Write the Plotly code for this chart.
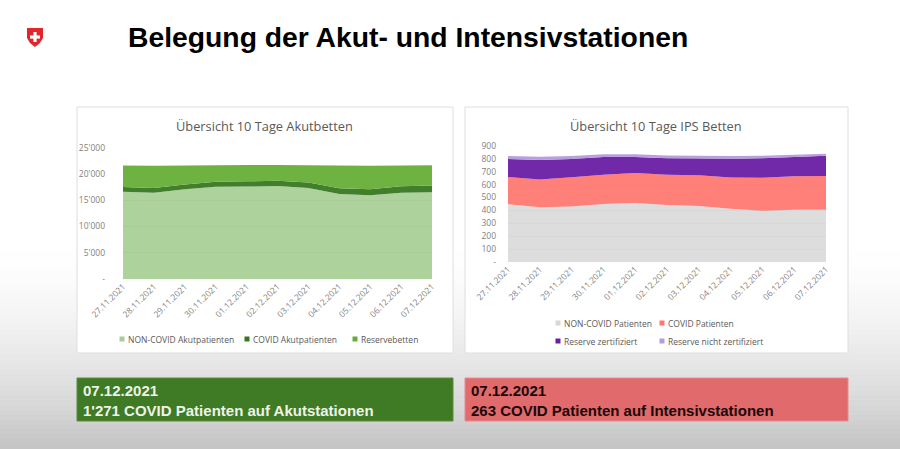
import plotly.graph_objects as go

W, H = 900, 449

dates = ['27.11.2021', '28.11.2021', '29.11.2021', '30.11.2021', '01.12.2021', '02.12.2021',
         '03.12.2021', '04.12.2021', '05.12.2021', '06.12.2021', '07.12.2021']

# Akutbetten
akut_non_covid = [16630, 16440, 17080, 17580, 17600, 17700, 17330, 16190, 15940, 16440, 16510]
akut_covid = [880, 900, 930, 960, 990, 1020, 1060, 1110, 1160, 1220, 1271]
akut_reserve = [4090, 4210, 3590, 3110, 3110, 2980, 3260, 4300, 4450, 3940, 3869]
akut_ticks = [0, 5000, 10000, 15000, 20000, 25000]
akut_ticktext = ['-', "5'000", "10'000", "15'000", "20'000", "25'000"]

# IPS Betten
ips_non_covid = [447, 424, 430, 449, 457, 442, 435, 413, 398, 404, 405]
ips_covid = [212, 215, 227, 228, 233, 235, 237, 242, 256, 262, 263]
ips_res_zert = [141, 153, 143, 138, 125, 128, 130, 145, 151, 149, 157]
ips_res_nicht = [22, 25, 22, 20, 20, 22, 22, 22, 20, 18, 15]
ips_ticks = [0, 100, 200, 300, 400, 500, 600, 700, 800, 900]
ips_ticktext = ['-', '100', '200', '300', '400', '500', '600', '700', '800', '900']


def px(x):
    return x / W


def py(y):
    return 1 - y / H


fig = go.Figure()

# left chart
akut_series = [
    ('NON-COVID Akutpatienten', akut_non_covid, 'rgba(160,202,138,0.85)', '#a8cc94'),
    ('COVID Akutpatienten', akut_covid, 'rgba(56,120,34,0.95)', '#3a7622'),
    ('Reservebetten', akut_reserve, 'rgba(102,174,56,0.95)', '#64ac38'),
]
for name, vals, col, _ in akut_series:
    fig.add_trace(go.Scatter(x=dates, y=vals, name=name, stackgroup='akut', mode='none',
                             fillcolor=col, xaxis='x', yaxis='y', showlegend=False))

# right chart
ips_series = [
    ('NON-COVID Patienten', ips_non_covid, 'rgba(215,215,215,0.85)', '#d7d7d7'),
    ('COVID Patienten', ips_covid, 'rgba(255,120,114,0.95)', '#ff7670'),
    ('Reserve zertifiziert', ips_res_zert, 'rgba(108,34,166,0.97)', '#6a1ea8'),
    ('Reserve nicht zertifiziert', ips_res_nicht, 'rgba(180,155,220,0.95)', '#b49bdc'),
]
for name, vals, col, _ in ips_series:
    fig.add_trace(go.Scatter(x=dates, y=vals, name=name, stackgroup='ips', mode='none',
                             fillcolor=col, xaxis='x2', yaxis='y2', showlegend=False))

tickfont = dict(family='Open Sans, Liberation Sans, sans-serif', size=8.5, color='#7f7f7f')
xcommon = dict(type='category', tickangle=-45, tickfont=tickfont, showgrid=False,
               zeroline=False, showline=False, ticks='', range=[0, 10], fixedrange=True,
               automargin=False)
ycommon = dict(tickfont=tickfont, showgrid=True, gridcolor='#d4d4d4', gridwidth=1,
               zeroline=False, showline=False, ticks='', fixedrange=True, automargin=False)

fig.update_layout(
    width=W, height=H,
    margin=dict(l=0, r=0, t=0, b=0, autoexpand=False),
    paper_bgcolor='white', plot_bgcolor='rgba(0,0,0,0)',
    showlegend=False,
    xaxis=dict(domain=[px(123), px(432)], anchor='y', **xcommon),
    yaxis=dict(domain=[py(279), py(147.7)], anchor='x', range=[0, 25000],
               tickvals=akut_ticks, ticktext=akut_ticktext, ticklabelstandoff=17, **ycommon),
    xaxis2=dict(domain=[px(508), px(826)], anchor='y2', **xcommon),
    yaxis2=dict(domain=[py(261.9), py(146)], anchor='x2', range=[0, 900],
                tickvals=ips_ticks, ticktext=ips_ticktext, ticklabelstandoff=11, **ycommon),
)

shapes = []
# slide background gradient
n = 40
y0 = 250
for i in range(n):
    t = (i + 1) / n
    g = int(255 - 58 * t ** 1.6)
    ya = y0 + (H - y0) * i / n
    yb = y0 + (H - y0) * (i + 1) / n + 0.5
    shapes.append(dict(type='rect', xref='paper', yref='paper', x0=0, x1=1,
                       y0=py(yb), y1=py(ya), fillcolor=f'rgb({g},{g},{g})',
                       line=dict(width=0), layer='below'))
# chart panels
for xa, xb in [(77, 453), (465, 848)]:
    shapes.append(dict(type='rect', xref='paper', yref='paper', x0=px(xa), x1=px(xb),
                       y0=py(353), y1=py(107), fillcolor='white',
                       line=dict(color='#dedede', width=1), layer='below'))
# summary boxes
shapes.append(dict(type='rect', xref='paper', yref='paper', x0=px(77), x1=px(453),
                   y0=py(421), y1=py(378), fillcolor='#3f7a24',
                   line=dict(color='#5a8a40', width=1), layer='below'))
shapes.append(dict(type='rect', xref='paper', yref='paper', x0=px(465), x1=px(848),
                   y0=py(421), y1=py(378), fillcolor='#e06a6c',
                   line=dict(color='#e88a8a', width=1), layer='below'))
# swiss shield
sx, sy = 35, 37
pts = [(sx - 8, sy - 9), (sx + 8, sy - 9), (sx + 8, sy + 1), (sx + 5, sy + 6), (sx, sy + 10),
       (sx - 5, sy + 6), (sx - 8, sy + 1)]
path = 'M ' + ' L '.join(f'{px(a):.5f},{py(b):.5f}' for a, b in pts) + ' Z'
shapes.append(dict(type='path', xref='paper', yref='paper', path=path,
                   fillcolor='#e3262b', line=dict(width=0)))
shapes.append(dict(type='rect', xref='paper', yref='paper', x0=px(sx - 1.6), x1=px(sx + 1.6),
                   y0=py(sy + 5), y1=py(sy - 5), fillcolor='white', line=dict(width=0)))
shapes.append(dict(type='rect', xref='paper', yref='paper', x0=px(sx - 5), x1=px(sx + 5),
                   y0=py(sy + 1.6), y1=py(sy - 1.6), fillcolor='white', line=dict(width=0)))

ann = []
legfont = dict(family='Open Sans, Liberation Sans, sans-serif', size=8.5, color='#595959')
# legend entries (small square + label), laid out like the original slide
leg_pos = [(akut_series[0], 122, 339), (akut_series[1], 247, 339), (akut_series[2], 355, 339),
           (ips_series[0], 558, 323), (ips_series[1], 662, 323),
           (ips_series[2], 558, 341), (ips_series[3], 662, 341)]
for (name, _, _, solid), lx, ly in leg_pos:
    shapes.append(dict(type='rect', xref='paper', yref='paper', x0=px(lx - 2.5), x1=px(lx + 2.5),
                       y0=py(ly + 2.5), y1=py(ly - 2.5), fillcolor=solid, line=dict(width=0)))
    ann.append(dict(text=name, x=px(lx + 3.5), y=py(ly), xref='paper', yref='paper',
                    xanchor='left', yanchor='middle', showarrow=False, font=legfont))
fig.update_layout(shapes=shapes)

ann.append(dict(text='<b>Belegung der Akut- und Intensivstationen</b>', x=px(126), y=py(37),
                xref='paper', yref='paper', xanchor='left', yanchor='middle', showarrow=False,
                font=dict(family='Liberation Sans, Arial, sans-serif', size=28.3, color='black')))
ann.append(dict(text='Übersicht 10 Tage Akutbetten', x=px(264), y=py(126), xref='paper',
                yref='paper', xanchor='center', yanchor='middle', showarrow=False,
                font=dict(family='Open Sans, sans-serif', size=12.8, color='#595959')))
ann.append(dict(text='Übersicht 10 Tage IPS Betten', x=px(656), y=py(126), xref='paper',
                yref='paper', xanchor='center', yanchor='middle', showarrow=False,
                font=dict(family='Open Sans, sans-serif', size=12.8, color='#595959')))
boxfont = 'Liberation Sans, Arial, sans-serif'
ann.append(dict(text="<b>07.12.2021</b><br><b>1'271 COVID Patienten auf Akutstationen</b>",
                x=px(81), y=py(400), xref='paper', yref='paper', xanchor='left', yanchor='middle',
                align='left', showarrow=False,
                font=dict(family=boxfont, size=15, color='#eef3e8')))
ann.append(dict(text="<b>07.12.2021</b><br><b>263 COVID Patienten auf Intensivstationen</b>",
                x=px(469), y=py(400), xref='paper', yref='paper', xanchor='left', yanchor='middle',
                align='left', showarrow=False,
                font=dict(family=boxfont, size=15, color='#1a0808')))
fig.update_layout(annotations=ann)

# the page should start at the window's top-left corner, like the slide
fig.write_html("out.html", config={'displayModeBar': False},
               post_script="document.body.style.margin = '0';")
